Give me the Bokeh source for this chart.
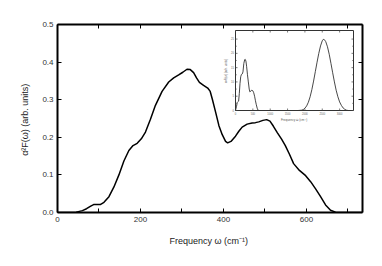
import numpy as np
from bokeh.plotting import figure
from bokeh.models import Range1d, LinearAxis, FixedTicker
from bokeh.core.properties import value
from bokeh.embed import file_html
from bokeh.resources import INLINE

# ---- main spectrum ----
freq = [0, 30, 45, 60, 70, 80, 87, 95, 103, 112, 124, 136, 148, 160, 172, 182, 192,
        202, 212, 224, 236, 252, 268, 280, 292, 302, 312, 320, 328, 335, 342, 352,
        362, 368, 373, 381, 389, 397, 405, 410, 418, 429, 437, 445, 457, 469, 477,
        485, 495, 504, 512, 520, 530, 540, 549, 559, 569, 583, 598, 610, 622, 634,
        646, 658, 670, 680, 735]
a2f = [0, 0, 0.001, 0.005, 0.010, 0.017, 0.021, 0.021, 0.021, 0.027, 0.042, 0.068,
       0.100, 0.137, 0.165, 0.178, 0.184, 0.196, 0.214, 0.248, 0.285, 0.322, 0.347,
       0.358, 0.366, 0.373, 0.381, 0.380, 0.372, 0.358, 0.346, 0.338, 0.331, 0.322,
       0.302, 0.267, 0.231, 0.207, 0.189, 0.185, 0.189, 0.203, 0.216, 0.227, 0.235,
       0.238, 0.239, 0.241, 0.245, 0.247, 0.243, 0.230, 0.212, 0.195, 0.178, 0.155,
       0.130, 0.112, 0.098, 0.082, 0.063, 0.042, 0.020, 0.006, 0.001, 0, 0]

# ---- inset spectrum ----
inset_freq = [0, 30, 50, 70, 90, 110, 130, 150, 170, 195, 215, 240, 265, 280, 300,
              320, 345, 370, 395, 415, 440, 470, 500, 525, 550, 575, 600, 625, 650,
              670, 1800, 1900, 1950, 2000, 2050, 2100, 2150, 2200, 2250, 2300, 2350,
              2400, 2450, 2500, 2530, 2560, 2600, 2650, 2700, 2750, 2800, 2850, 2900,
              2950, 3000, 3050, 3100, 3150, 3200, 3250]
inset_a2f = [0, 1.5, 2.8, 3.1, 3.3, 6.0, 9.5, 11.8, 12.6, 12.8, 13.5, 16.5, 17.8,
             17.9, 17.3, 15.5, 12.5, 10.0, 7.5, 6.5, 6.8, 7.1, 6.9, 6.2, 5.0, 3.4,
             2.0, 0.8, 0.1, 0, 0, 0.1, 0.3, 0.8, 1.6, 2.9, 4.8, 7.3, 10.3, 13.6, 16.9,
             20.0, 22.6, 24.4, 24.9, 24.8, 24.1, 22.3, 19.7, 16.5, 13.2, 10.0, 7.1,
             4.8, 3.0, 1.8, 0.9, 0.4, 0.1, 0]

main_x_ticks = [0, 100, 200, 300, 400, 500, 600, 700]
main_x_labels = ["0", "", "200", "", "400", "", "600", ""]
main_y_ticks = [0.0, 0.1, 0.2, 0.3, 0.4, 0.5]
main_y_labels = ["0.0", "0.1", "0.2", "0.3", "0.4", "0.5"]
inset_x_ticks = [0, 500, 1000, 1500, 2000, 2500, 3000]
inset_y_ticks = [0, 5, 10, 15, 20, 25]
inset_y_minor = [2.5, 7.5, 12.5, 17.5, 22.5]

X_RANGE = (0, 735)
Y_RANGE = (0, 0.5)
INSET_X = (0, 3400)
INSET_Y = (0, 28)

FONT = "Liberation Sans"
BL, BR, BT, BB = 57, 12, 24, 46
FW, FH = 305, 188
W, H = BL + FW + BR, BT + FH + BB
# inset frame, in figure pixels
IL, IR, IT, IB = 235, 353, 30, 110

p = figure(width=W, height=H, x_range=X_RANGE, y_range=Y_RANGE,
           output_backend="svg", toolbar_location=None,
           min_border_left=BL, min_border_right=BR, min_border_top=BT,
           min_border_bottom=BB, x_axis_location=None, y_axis_location=None)
p.grid.visible = False
p.outline_line_color = None
p.background_fill_color = "white"
p.border_fill_color = "white"

def make_axis(ticks, labels, show_labels):
    ax = LinearAxis(ticker=FixedTicker(ticks=ticks, minor_ticks=[]))
    ax.major_label_overrides = {t: (l if show_labels else "") for t, l in zip(ticks, labels)}
    ax.major_tick_in = 4
    ax.major_tick_out = 0
    ax.minor_tick_in = 0
    ax.minor_tick_out = 0
    ax.axis_line_width = 2
    ax.axis_line_color = "black"
    ax.major_tick_line_width = 1
    ax.major_label_text_font = FONT
    ax.major_label_text_font_size = "8px" if show_labels else "0px"
    ax.major_label_text_color = "#333333"
    ax.major_label_standoff = 4
    ax.axis_label_text_font = FONT
    ax.axis_label_text_font_size = "9px"
    ax.axis_label_text_font_style = "normal"
    ax.axis_label_text_color = "#222222"
    return ax

xb = make_axis(main_x_ticks, main_x_labels, True)
xb.axis_label = "Frequency ω  (cm⁻¹)"
xb.axis_label_standoff = 11
yl = make_axis(main_y_ticks, main_y_labels, True)
yl.axis_label = "α²F(ω)  (arb. units)"
yl.axis_label_standoff = 9
xt = make_axis(main_x_ticks, main_x_labels, False)
yr = make_axis(main_y_ticks, main_y_labels, False)
p.add_layout(xb, "below")
p.add_layout(yl, "left")
p.add_layout(xt, "above")
p.add_layout(yr, "right")

p.line(freq, a2f, line_color="black", line_width=1.5)

# ---- inset drawn in its own ranges ----
fx0, fx1 = IL - BL, IR - BL
per_x = (INSET_X[1] - INSET_X[0]) / (fx1 - fx0)
xs = INSET_X[0] - fx0 * per_x
p.extra_x_ranges = {"ix": Range1d(xs, xs + FW * per_x)}
fy0, fy1 = (H - BB) - IB, (H - BB) - IT
per_y = (INSET_Y[1] - INSET_Y[0]) / (fy1 - fy0)
ys = INSET_Y[0] - fy0 * per_y
p.extra_y_ranges = {"iy": Range1d(ys, ys + FH * per_y)}
R = dict(x_range_name="ix", y_range_name="iy")

p.quad(left=INSET_X[0], right=INSET_X[1], bottom=INSET_Y[0], top=INSET_Y[1],
       fill_color="white", line_color="#333333", line_width=1, **R)

tx = np.array(inset_x_ticks, dtype=float)
ty = np.array(inset_y_ticks, dtype=float)
tym = np.array(inset_y_minor, dtype=float)
lx, ly = 2 * per_x, 2 * per_y
lxm = 1.2 * per_x
tick_col = "#444444"
p.segment(x0=tx, y0=np.full_like(tx, INSET_Y[0]), x1=tx, y1=np.full_like(tx, INSET_Y[0] + ly),
          line_color=tick_col, line_width=0.7, **R)
p.segment(x0=tx, y0=np.full_like(tx, INSET_Y[1]), x1=tx, y1=np.full_like(tx, INSET_Y[1] - ly),
          line_color=tick_col, line_width=0.7, **R)
for yy, ll in ((ty, lx), (tym, lxm)):
    p.segment(x0=np.full_like(yy, INSET_X[0]), y0=yy, x1=np.full_like(yy, INSET_X[0] + ll), y1=yy,
              line_color=tick_col, line_width=0.7, **R)
    p.segment(x0=np.full_like(yy, INSET_X[1]), y0=yy, x1=np.full_like(yy, INSET_X[1] - ll), y1=yy,
              line_color=tick_col, line_width=0.7, **R)

p.line(inset_freq, inset_a2f, line_color="#333333", line_width=0.9, **R)

p.text(x=tx, y=np.full_like(tx, INSET_Y[0]), text=[str(int(t)) for t in inset_x_ticks],
       text_font=value(FONT), text_font_size="2.6px", text_color="#666666",
       text_align="center", text_baseline="top", y_offset=1.5, **R)
p.text(x=np.full_like(ty, INSET_X[0]), y=ty, text=[str(int(t)) for t in inset_y_ticks],
       text_font=value(FONT), text_font_size="2.6px", text_color="#666666",
       text_align="right", text_baseline="middle", x_offset=-1.5, **R)
p.text(x=[(INSET_X[0] + INSET_X[1]) / 2], y=[INSET_Y[0]], text=["Frequency ω  (cm⁻¹)"],
       text_font=value(FONT), text_font_size="3px", text_color="#555555",
       text_align="center", text_baseline="middle", y_offset=9, **R)
p.text(x=[INSET_X[0]], y=[(INSET_Y[0] + INSET_Y[1]) / 2], text=["α²F(ω)  (arb. units)"],
       text_font=value(FONT), text_font_size="3px", text_color="#555555",
       text_align="center", text_baseline="middle", x_offset=-10, angle=np.pi / 2, **R)

open("out.html", "w").write(file_html(p, INLINE))
